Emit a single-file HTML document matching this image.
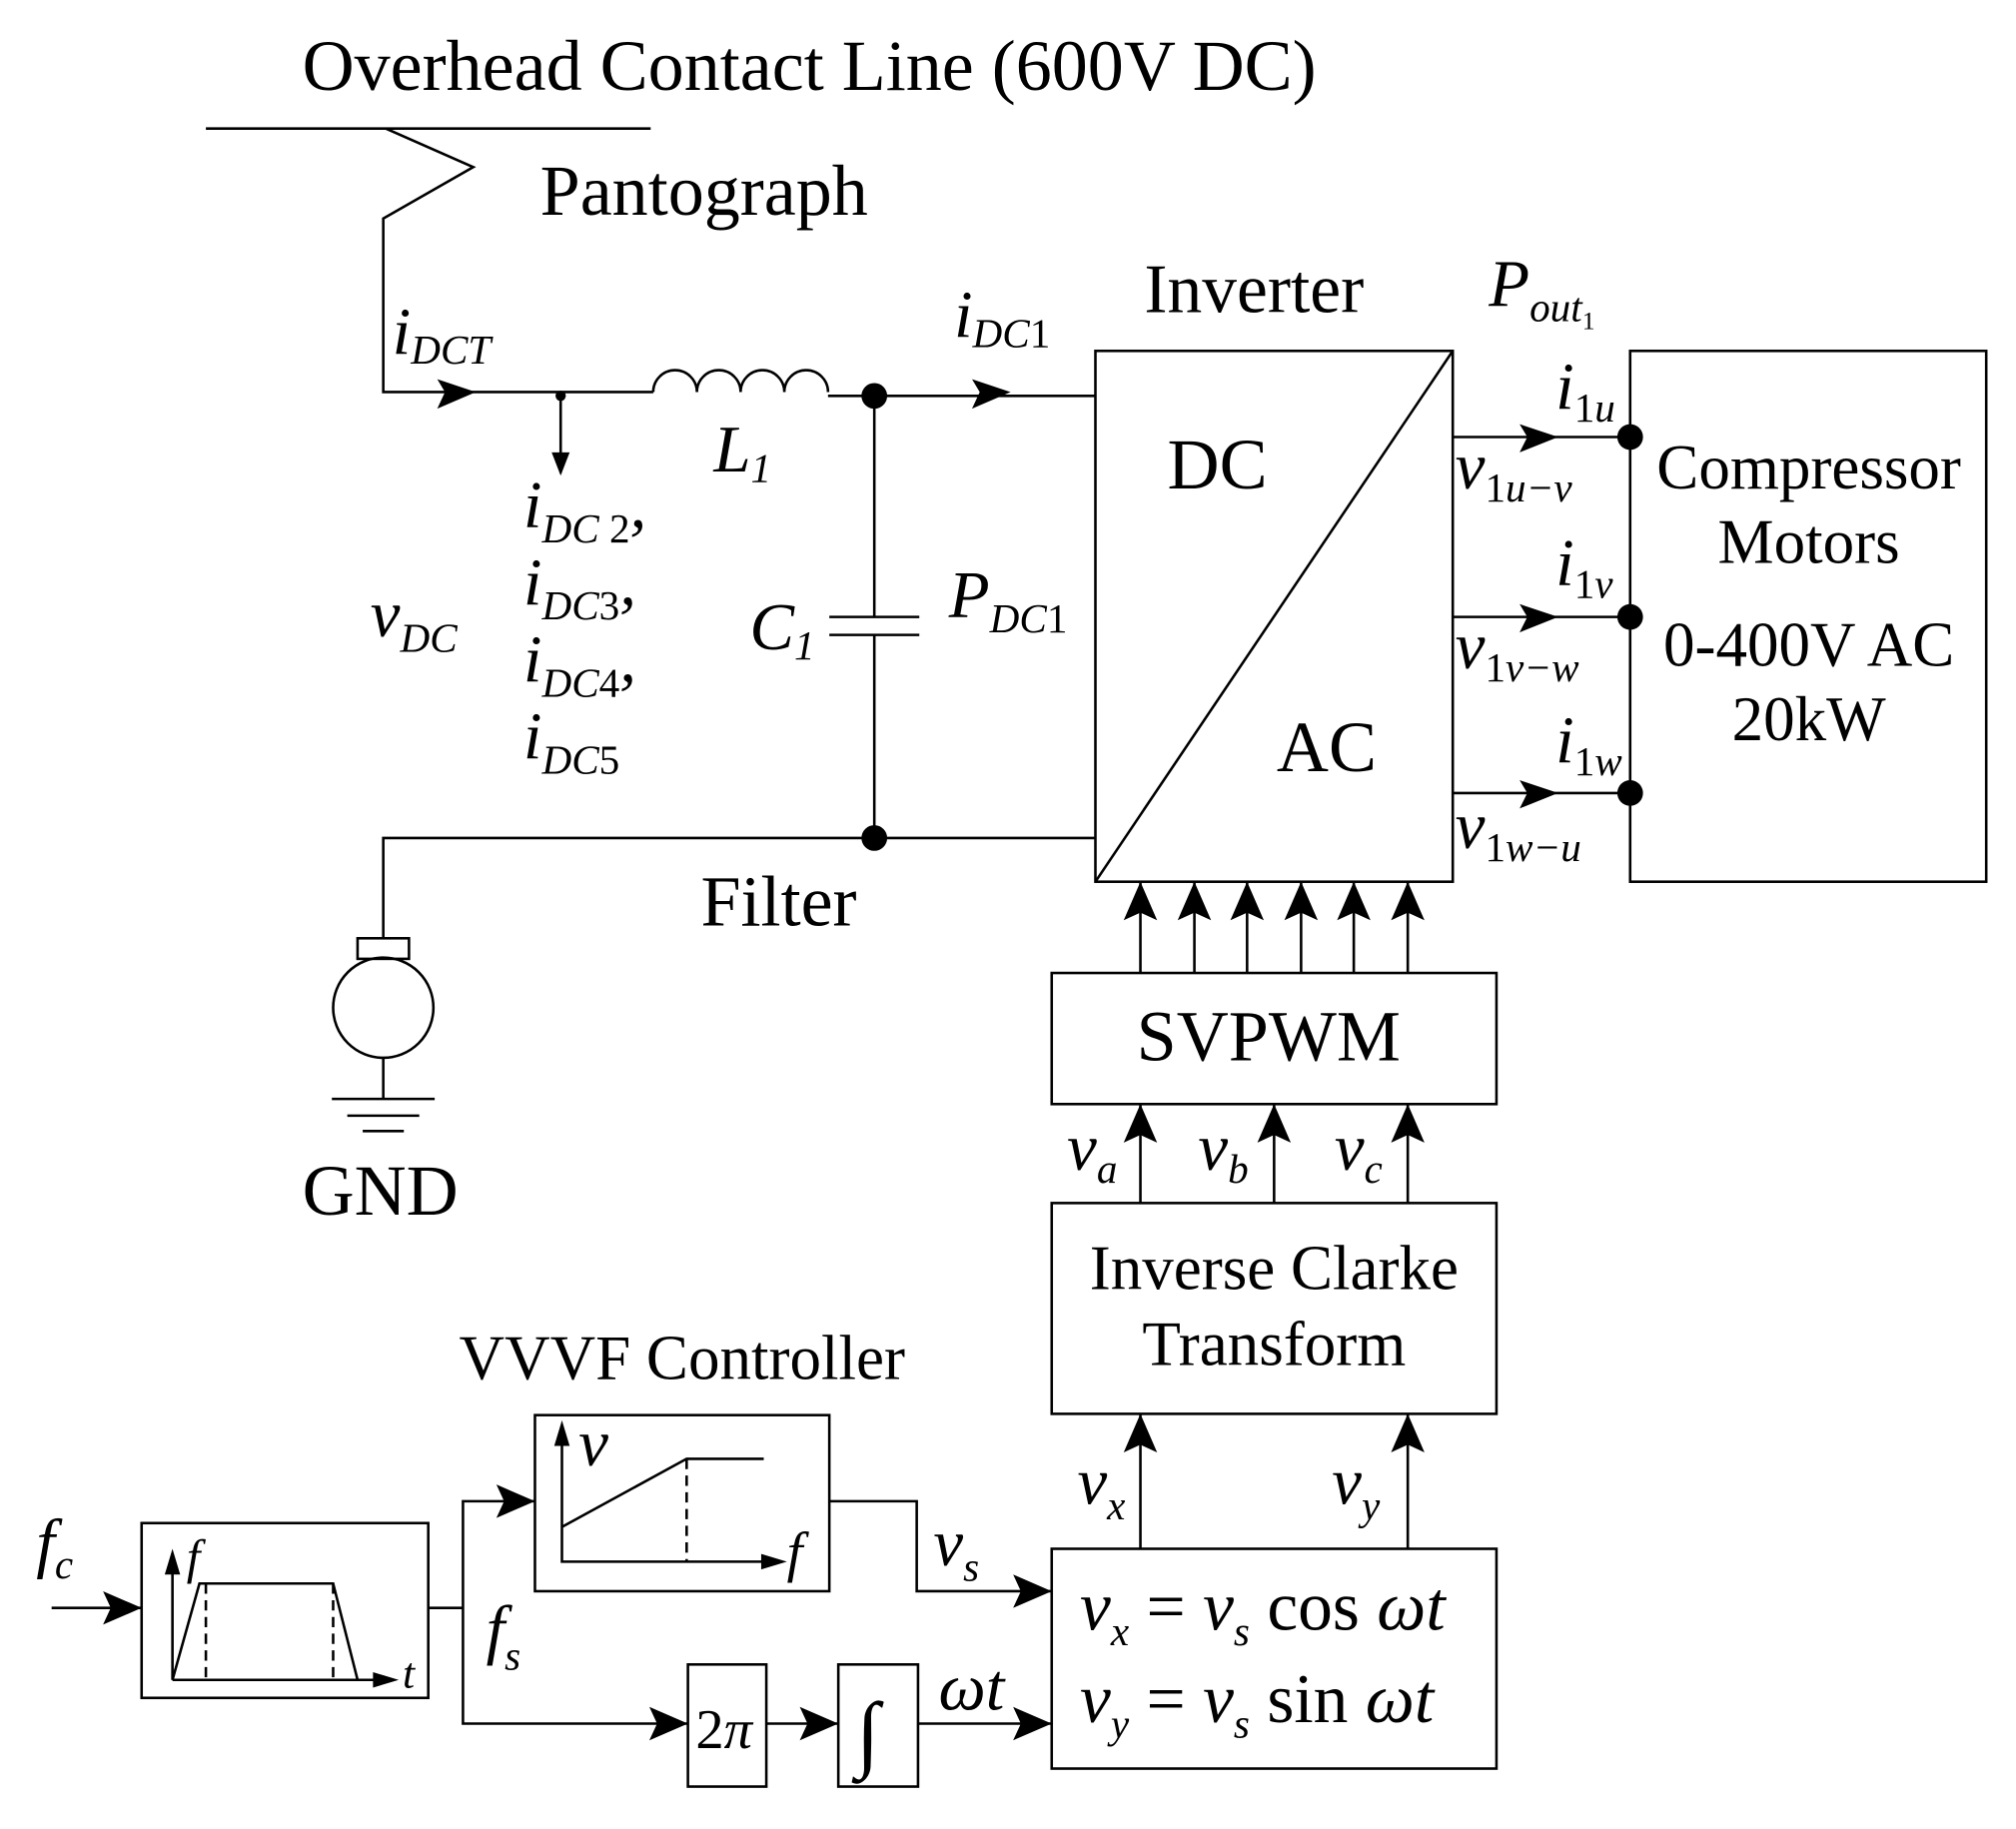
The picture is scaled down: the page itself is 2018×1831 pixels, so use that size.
<!DOCTYPE html>
<html><head><meta charset="utf-8"><style>
html,body{margin:0;padding:0;background:#fff}
svg{display:block}
text{font-family:"Liberation Serif",serif;fill:#000}
.i{font-style:italic}
</style></head><body>
<svg width="2018" height="1831" viewBox="0 0 1568 1423" xmlns="http://www.w3.org/2000/svg">
<defs>
<g id="up"><path d="M-13,30 L0,0 L13,30 L0,24z"/></g>
</defs>
<g stroke="#000" stroke-width="2" fill="none">
<line x1="160" y1="100" x2="506" y2="100"/>
<polyline points="300,100 368,130 298,170 298,305 508,305"/>
<path d="M508,305 a17,17 0 0 1 34,0 a17,17 0 0 1 34,0 a17,17 0 0 1 34,0 a17,17 0 0 1 34,0"/>
<line x1="644" y1="308" x2="852" y2="308"/>
<line x1="680" y1="308" x2="680" y2="480"/>
<line x1="680" y1="494" x2="680" y2="652"/>
<line x1="645" y1="480" x2="715" y2="480"/>
<line x1="645" y1="494" x2="715" y2="494"/>
<polyline points="852,652 298,652 298,730"/>
<rect x="278" y="730" width="40" height="16"/>
<circle cx="298" cy="784" r="39"/>
<line x1="298" y1="823" x2="298" y2="855"/>
<line x1="258" y1="855" x2="338" y2="855"/>
<line x1="270" y1="868" x2="326" y2="868"/>
<line x1="282" y1="880" x2="314" y2="880"/>
<line x1="436" y1="308" x2="436" y2="368"/>
<rect x="852" y="273" width="278" height="413"/>
<line x1="852" y1="686" x2="1130" y2="273"/>
<line x1="1130" y1="340" x2="1268" y2="340"/>
<line x1="1130" y1="480" x2="1268" y2="480"/>
<line x1="1130" y1="617" x2="1268" y2="617"/>
<rect x="1268" y="273" width="277" height="413"/>
<rect x="818" y="757" width="346" height="102"/>
<rect x="818" y="936" width="346" height="164"/>
<rect x="818" y="1205" width="346" height="171"/>
<rect x="416" y="1101" width="229" height="137"/>
<rect x="110" y="1185" width="223" height="136"/>
<rect x="535" y="1295" width="61" height="95"/>
<rect x="652" y="1295" width="62" height="95"/>
<line x1="40" y1="1251" x2="110" y2="1251"/>
<polyline points="333,1251 360,1251"/>
<polyline points="416,1168 360,1168 360,1341 535,1341"/>
<line x1="596" y1="1341" x2="652" y2="1341"/>
<line x1="714" y1="1341" x2="818" y2="1341"/>
<polyline points="645,1168 713,1168 713,1238 818,1238"/>
<line x1="887" y1="757" x2="887" y2="686"/><line x1="929" y1="757" x2="929" y2="686"/>
<line x1="970" y1="757" x2="970" y2="686"/><line x1="1012" y1="757" x2="1012" y2="686"/>
<line x1="1053" y1="757" x2="1053" y2="686"/><line x1="1095" y1="757" x2="1095" y2="686"/>
<line x1="887" y1="936" x2="887" y2="859"/><line x1="991" y1="936" x2="991" y2="859"/><line x1="1095" y1="936" x2="1095" y2="859"/>
<line x1="887" y1="1205" x2="887" y2="1100"/><line x1="1095" y1="1205" x2="1095" y2="1100"/>
<polyline points="134,1307 134,1215"/>
<polyline points="134,1307 300,1307"/>
<polyline points="134,1307 155,1232 259,1232 278,1307"/>
<line x1="160" y1="1232" x2="160" y2="1307" stroke-dasharray="8,5"/>
<line x1="259" y1="1232" x2="259" y2="1307" stroke-dasharray="8,5"/>
<polyline points="437,1114 437,1215 600,1215"/>
<polyline points="437,1188 534,1135 594,1135"/>
<line x1="534" y1="1135" x2="534" y2="1215" stroke-dasharray="8,5"/>
</g>
<g fill="#000">
<circle cx="436" cy="308" r="4"/>
<circle cx="680" cy="308" r="10"/>
<circle cx="680" cy="652" r="10"/>
<circle cx="1268" cy="340" r="10"/><circle cx="1268" cy="480" r="10"/><circle cx="1268" cy="617" r="10"/>
<path d="M340,295 L370,305 L340,318 L346,305z"/>
<path d="M756,295 L786,305 L756,318 L762,305z"/>
<path d="M429,352 L436,370 L443,352z"/>
<path d="M1182,330 L1212,340 L1182,352 L1188,340z"/>
<path d="M1182,470 L1212,480 L1182,492 L1188,480z"/>
<path d="M1182,607 L1212,617 L1182,629 L1188,617z"/>
<use href="#up" x="887" y="686"/><use href="#up" x="929" y="686"/><use href="#up" x="970" y="686"/>
<use href="#up" x="1012" y="686"/><use href="#up" x="1053" y="686"/><use href="#up" x="1095" y="686"/>
<use href="#up" x="887" y="859"/><use href="#up" x="991" y="859"/><use href="#up" x="1095" y="859"/>
<use href="#up" x="887" y="1100"/><use href="#up" x="1095" y="1100"/>
<path d="M80,1238 L110,1251 L80,1264 L86,1251z"/>
<path d="M386,1155 L416,1168 L386,1181 L392,1168z"/>
<path d="M505,1328 L535,1341 L505,1354 L511,1341z"/>
<path d="M622,1328 L652,1341 L622,1354 L628,1341z"/>
<path d="M788,1328 L818,1341 L788,1354 L794,1341z"/>
<path d="M788,1225 L818,1238 L788,1251 L794,1238z"/>
<path d="M128,1225 L134,1205 L140,1225z"/>
<path d="M290,1301 L310,1307 L290,1313z"/>
<path d="M431,1125 L437,1105 L443,1125z"/>
<path d="M592,1209 L612,1215 L592,1221z"/>
</g>
<g font-size="56">
<text x="235" y="70">Overhead Contact Line (600V DC)</text>
<text x="420" y="167">Pantograph</text>
<text x="890" y="243" font-size="54">Inverter</text>
<text x="908" y="380">DC</text>
<text x="993" y="600">AC</text>
<text x="545" y="720">Filter</text>
<text x="235" y="945">GND</text>
<text x="884" y="825">SVPWM</text>
</g>
<g font-size="49">
<text x="1407" y="380" text-anchor="middle">Compressor</text>
<text x="1407" y="438" text-anchor="middle">Motors</text>
<text x="1407" y="518" text-anchor="middle">0-400V AC</text>
<text x="1407" y="576" text-anchor="middle">20kW</text>
<text x="991" y="1003" text-anchor="middle">Inverse Clarke</text>
<text x="991" y="1062" text-anchor="middle">Transform</text>
<text x="357" y="1073">VVVF Controller</text>
</g>
<g font-size="52">
<text x="305" y="275" class="i">i<tspan font-size="32" dy="8">DCT</tspan></text>
<text x="742" y="262" class="i">i<tspan font-size="32" dy="8">DC</tspan><tspan font-style="normal" font-size="32">1</tspan></text>
<text x="555" y="367" class="i">L<tspan font-size="32" dy="8">1</tspan></text>
<text x="288" y="495" class="i">v<tspan font-size="32" dy="12">DC</tspan></text>
<text x="407" y="410" class="i">i<tspan font-size="32" dy="12">DC</tspan><tspan font-style="normal" font-size="32"> 2</tspan><tspan dy="-12">,</tspan></text>
<text x="407" y="470" class="i">i<tspan font-size="32" dy="12">DC</tspan><tspan font-style="normal" font-size="32">3</tspan><tspan dy="-12">,</tspan></text>
<text x="407" y="530" class="i">i<tspan font-size="32" dy="12">DC</tspan><tspan font-style="normal" font-size="32">4</tspan><tspan dy="-12">,</tspan></text>
<text x="407" y="590" class="i">i<tspan font-size="32" dy="12">DC</tspan><tspan font-style="normal" font-size="32">5</tspan></text>
<text x="583" y="505" class="i">C<tspan font-size="32" dy="8">1</tspan></text>
<text x="738" y="480" class="i">P<tspan font-size="32" dy="12">DC</tspan><tspan font-style="normal" font-size="32">1</tspan></text>
<text x="1158" y="238" class="i">P<tspan font-size="32" dy="12">out</tspan><tspan font-style="normal" font-size="20" dy="6">1</tspan></text>
<text x="1210" y="318" class="i">i<tspan font-style="normal" font-size="32" dy="10">1</tspan><tspan font-size="32">u</tspan></text>
<text x="1210" y="455" class="i">i<tspan font-style="normal" font-size="32" dy="10">1</tspan><tspan font-size="32">v</tspan></text>
<text x="1210" y="593" class="i">i<tspan font-style="normal" font-size="32" dy="10">1</tspan><tspan font-size="32">w</tspan></text>
<text x="1132" y="380" class="i">v<tspan font-style="normal" font-size="32" dy="10">1</tspan><tspan font-size="32">u−v</tspan></text>
<text x="1132" y="520" class="i">v<tspan font-style="normal" font-size="32" dy="10">1</tspan><tspan font-size="32">v−w</tspan></text>
<text x="1132" y="660" class="i">v<tspan font-style="normal" font-size="32" dy="10">1</tspan><tspan font-size="32">w−u</tspan></text>
<text x="830" y="910" class="i">v<tspan font-size="32" dy="10">a</tspan></text>
<text x="932" y="910" class="i">v<tspan font-size="32" dy="10">b</tspan></text>
<text x="1038" y="910" class="i">v<tspan font-size="32" dy="10">c</tspan></text>
<text x="838" y="1170" class="i">v<tspan font-size="32" dy="12">x</tspan></text>
<text x="1036" y="1170" class="i">v<tspan font-size="32" dy="12">y</tspan></text>
<text x="726" y="1218" class="i">v<tspan font-size="32" dy="12">s</tspan></text>
<text x="730" y="1330" class="i">ωt</text>
<text x="378" y="1285" class="i">f<tspan font-size="32" dy="14">s</tspan></text>
<text x="28" y="1218" class="i">f<tspan font-size="32" dy="10">c</tspan></text>
<text x="145" y="1224" class="i" font-size="38">f</text>
<text x="313" y="1313" class="i" font-size="34">t</text>
<text x="450" y="1140" class="i">v</text>
<text x="612" y="1222" class="i" font-size="44">f</text>
<text x="541" y="1360" class="i" font-size="44"><tspan font-style="normal">2</tspan>π</text>
<text x="666" y="1370" font-size="66">∫</text>
<text x="840" y="1268" class="i" font-size="54">v<tspan font-size="32" dy="12">x</tspan><tspan dy="-12" font-style="normal"> = </tspan>v<tspan font-size="32" dy="12">s</tspan><tspan dy="-12" font-style="normal"> cos </tspan>ωt</text>
<text x="840" y="1340" class="i" font-size="54">v<tspan font-size="32" dy="12">y</tspan><tspan dy="-12" font-style="normal"> = </tspan>v<tspan font-size="32" dy="12">s</tspan><tspan dy="-12" font-style="normal"> sin </tspan>ωt</text>
</g>
</svg>
</body></html>
